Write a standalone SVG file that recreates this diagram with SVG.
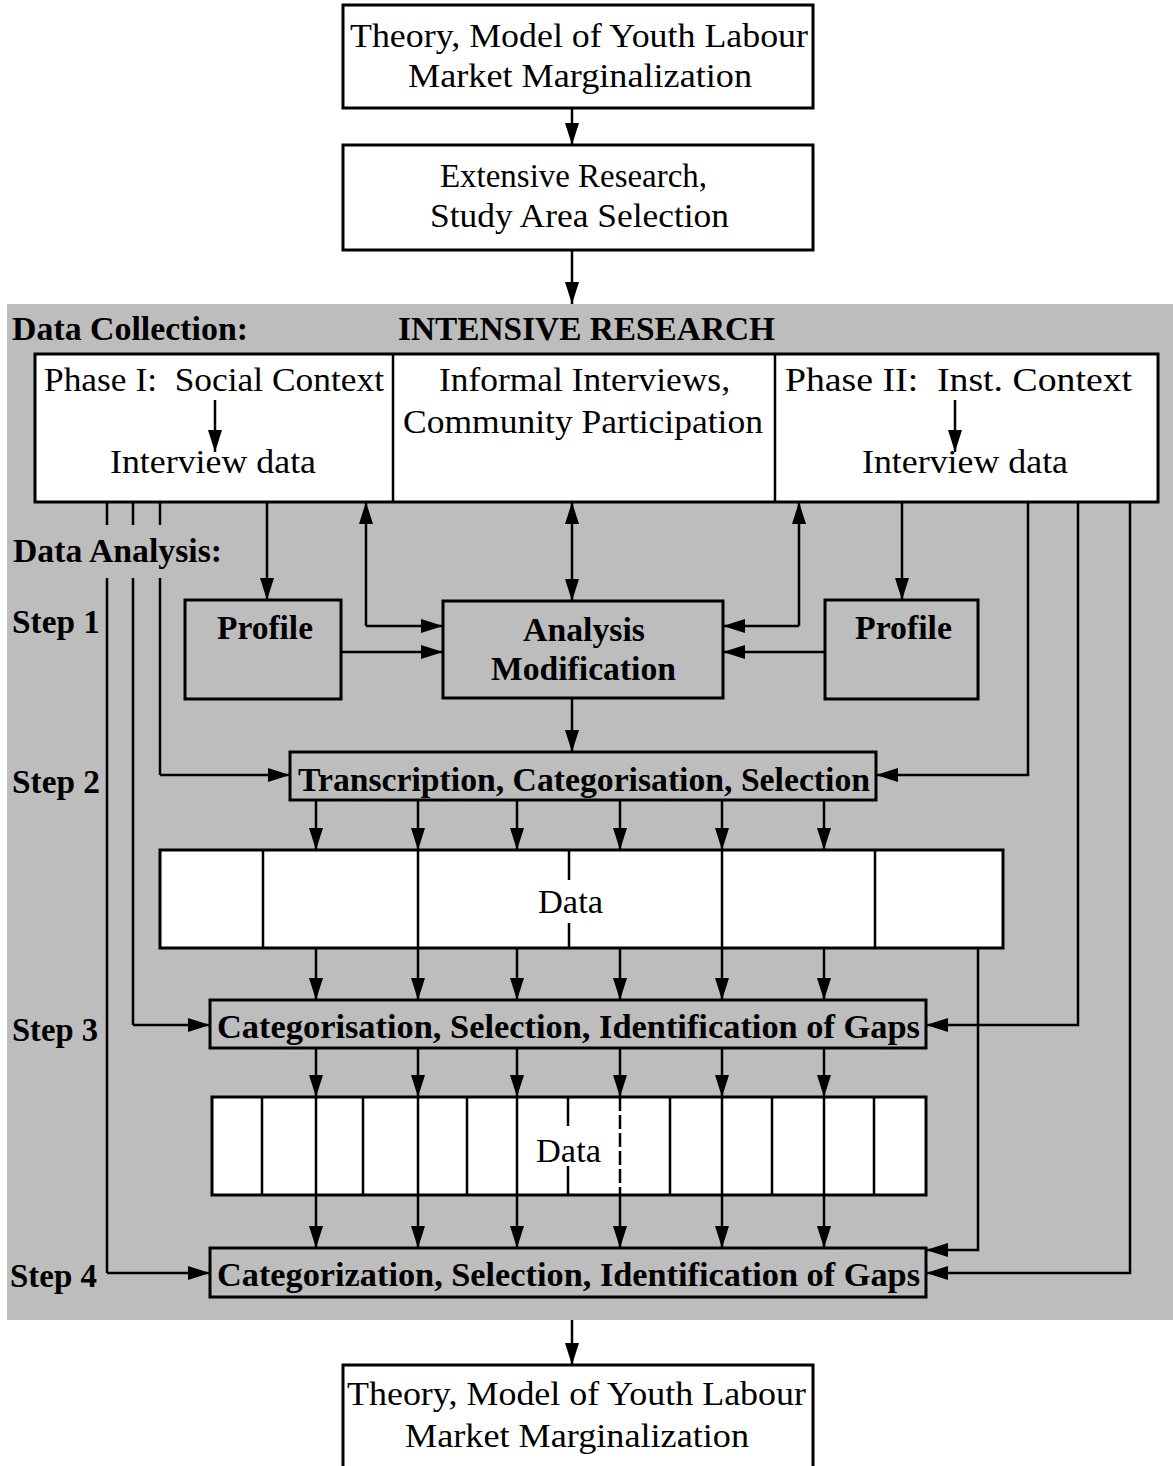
<svg xmlns="http://www.w3.org/2000/svg" width="1173" height="1466" viewBox="0 0 1173 1466">
<style>
  .box{fill:#ffffff;stroke:#000;stroke-width:3}
  .gbox{fill:#bdbdbd;stroke:#000;stroke-width:3}
  .ln{fill:none;stroke:#000;stroke-width:2.5}
  .t{font-family:"Liberation Serif","Times New Roman",serif;font-size:34px;fill:#000}
  .b{font-family:"Liberation Serif","Times New Roman",serif;font-size:34px;font-weight:bold;fill:#000}
</style>
<defs>
  <marker id="ah" viewBox="0 0 22 14" refX="22" refY="7" markerWidth="22" markerHeight="14" markerUnits="userSpaceOnUse" orient="auto-start-reverse">
    <path d="M0,0 L22,7 L0,14 Z" fill="#000"/>
  </marker>
</defs>

<rect id="shade" x="7" y="304" width="1166" height="1016" fill="#bdbdbd"/>

<g id="theory-top">
  <rect class="box" x="343" y="5" width="470" height="103"/>
  <text class="t" x="350" y="47" textLength="458" lengthAdjust="spacingAndGlyphs">Theory, Model of Youth Labour</text>
  <text class="t" x="408" y="87" textLength="344" lengthAdjust="spacingAndGlyphs">Market Marginalization</text>
</g>

<g id="extensive">
  <rect class="box" x="343" y="145" width="470" height="105"/>
  <text class="t" x="440" y="187" textLength="267" lengthAdjust="spacingAndGlyphs">Extensive Research,</text>
  <text class="t" x="430" y="227" textLength="299" lengthAdjust="spacingAndGlyphs">Study Area Selection</text>
</g>

<g id="labels">
  <text class="b" x="12" y="340" textLength="236" lengthAdjust="spacingAndGlyphs">Data Collection:</text>
  <text class="b" x="398" y="340" textLength="377" lengthAdjust="spacingAndGlyphs">INTENSIVE RESEARCH</text>
  <text class="b" x="13" y="562" textLength="209" lengthAdjust="spacingAndGlyphs">Data Analysis:</text>
  <text class="b" x="12" y="633" textLength="88" lengthAdjust="spacingAndGlyphs">Step 1</text>
  <text class="b" x="12" y="793" textLength="88" lengthAdjust="spacingAndGlyphs">Step 2</text>
  <text class="b" x="12" y="1041" textLength="86" lengthAdjust="spacingAndGlyphs">Step 3</text>
  <text class="b" x="10" y="1287" textLength="87" lengthAdjust="spacingAndGlyphs">Step 4</text>
</g>

<g id="collection">
  <rect class="box" x="35" y="354" width="1123" height="148"/>
  <line class="ln" x1="393" y1="354" x2="393" y2="502"/>
  <line class="ln" x1="775" y1="354" x2="775" y2="502"/>
  <text class="t" x="44" y="391" textLength="340" lengthAdjust="spacingAndGlyphs" xml:space="preserve">Phase I:  Social Context</text>
  <text class="t" x="110" y="473" textLength="206" lengthAdjust="spacingAndGlyphs">Interview data</text>
  <text class="t" x="439" y="391" textLength="291" lengthAdjust="spacingAndGlyphs">Informal Interviews,</text>
  <text class="t" x="403" y="433" textLength="360" lengthAdjust="spacingAndGlyphs">Community Participation</text>
  <text class="t" x="785" y="391" textLength="347" lengthAdjust="spacingAndGlyphs" xml:space="preserve">Phase II:  Inst. Context</text>
  <text class="t" x="862" y="473" textLength="206" lengthAdjust="spacingAndGlyphs">Interview data</text>
</g>

<g id="profile-left">
  <rect class="gbox" x="185" y="600" width="156" height="99"/>
  <text class="b" x="217" y="639" textLength="96" lengthAdjust="spacingAndGlyphs">Profile</text>
</g>
<g id="analysis">
  <rect class="gbox" x="443" y="601" width="280" height="97"/>
  <text class="b" x="523" y="641" textLength="122" lengthAdjust="spacingAndGlyphs">Analysis</text>
  <text class="b" x="491" y="680" textLength="185" lengthAdjust="spacingAndGlyphs">Modification</text>
</g>
<g id="profile-right">
  <rect class="gbox" x="825" y="600" width="153" height="99"/>
  <text class="b" x="855" y="639" textLength="97" lengthAdjust="spacingAndGlyphs">Profile</text>
</g>
<g id="transcription">
  <rect class="gbox" x="290" y="752" width="586" height="48"/>
  <text class="b" x="298" y="791" textLength="572" lengthAdjust="spacingAndGlyphs">Transcription, Categorisation, Selection</text>
</g>
<g id="data1">
  <rect class="box" x="160" y="850" width="843" height="98"/>
  <line class="ln" x1="263" y1="850" x2="263" y2="948"/>
  <line class="ln" x1="875" y1="850" x2="875" y2="948"/>
  <line class="ln" x1="569" y1="850" x2="569" y2="880"/>
  <line class="ln" x1="569" y1="923" x2="569" y2="948"/>
  <text class="t" x="538" y="913" textLength="65" lengthAdjust="spacingAndGlyphs">Data</text>
</g>
<g id="categorisation">
  <rect class="gbox" x="210" y="1000" width="716" height="48"/>
  <text class="b" x="217" y="1038" textLength="703" lengthAdjust="spacingAndGlyphs">Categorisation, Selection, Identification of Gaps</text>
</g>
<g id="data2">
  <rect class="box" x="212" y="1097" width="714" height="98"/>
  <path class="ln" d="M262,1097V1195 M363,1097V1195 M467,1097V1195 M670,1097V1195 M772,1097V1195 M874,1097V1195 M568,1097V1126 M568,1166V1195"/>
  <line class="ln" x1="620" y1="1097" x2="620" y2="1195" stroke-dasharray="14,4"/>
  <text class="t" x="536" y="1162" textLength="65" lengthAdjust="spacingAndGlyphs">Data</text>
</g>
<g id="categorization">
  <rect class="gbox" x="210" y="1248" width="716" height="49"/>
  <text class="b" x="217" y="1286" textLength="703" lengthAdjust="spacingAndGlyphs">Categorization, Selection, Identification of Gaps</text>
</g>
<g id="theory-bottom">
  <rect class="box" x="343" y="1365" width="470" height="110"/>
  <text class="t" x="347" y="1405" textLength="459" lengthAdjust="spacingAndGlyphs">Theory, Model of Youth Labour</text>
  <text class="t" x="405" y="1447" textLength="344" lengthAdjust="spacingAndGlyphs">Market Marginalization</text>
</g>

<g id="connectors">
  <line class="ln" x1="572" y1="108" x2="572" y2="145" marker-end="url(#ah)"/>
  <line class="ln" x1="572" y1="250" x2="572" y2="304" marker-end="url(#ah)"/>
  <line class="ln" x1="215" y1="400" x2="215" y2="452" marker-end="url(#ah)"/>
  <line class="ln" x1="955" y1="400" x2="955" y2="452" marker-end="url(#ah)"/>

  <path class="ln" d="M107,502V525 M107,578V1273"/>
  <path class="ln" d="M107,1273H210" marker-end="url(#ah)"/>
  <path class="ln" d="M133,502V525 M133,578V1025"/>
  <path class="ln" d="M133,1025H210" marker-end="url(#ah)"/>
  <path class="ln" d="M160,502V525 M160,578V775"/>
  <path class="ln" d="M160,775H290" marker-end="url(#ah)"/>

  <line class="ln" x1="267" y1="502" x2="267" y2="600" marker-end="url(#ah)"/>
  <path class="ln" d="M366,626V502" marker-end="url(#ah)"/>
  <path class="ln" d="M366,626H443" marker-end="url(#ah)"/>
  <path class="ln" d="M341,652H443" marker-end="url(#ah)"/>
  <line class="ln" x1="572" y1="502" x2="572" y2="601" marker-start="url(#ah)" marker-end="url(#ah)"/>
  <path class="ln" d="M799,626V502" marker-end="url(#ah)"/>
  <path class="ln" d="M799,626H723" marker-end="url(#ah)"/>
  <path class="ln" d="M825,652H723" marker-end="url(#ah)"/>
  <line class="ln" x1="902" y1="502" x2="902" y2="600" marker-end="url(#ah)"/>
  <line class="ln" x1="572" y1="698" x2="572" y2="752" marker-end="url(#ah)"/>

  <path class="ln" d="M1028,502V775H876" marker-end="url(#ah)"/>
  <path class="ln" d="M1078,502V1025H926" marker-end="url(#ah)"/>
  <path class="ln" d="M1130,502V1273H926" marker-end="url(#ah)"/>
  <path class="ln" d="M978,948V1250H926" marker-end="url(#ah)"/>

  <g>
    <line class="ln" x1="316" y1="800" x2="316" y2="850" marker-end="url(#ah)"/>
    <line class="ln" x1="418" y1="800" x2="418" y2="850" marker-end="url(#ah)"/>
    <line class="ln" x1="517" y1="800" x2="517" y2="850" marker-end="url(#ah)"/>
    <line class="ln" x1="620" y1="800" x2="620" y2="850" marker-end="url(#ah)"/>
    <line class="ln" x1="722" y1="800" x2="722" y2="850" marker-end="url(#ah)"/>
    <line class="ln" x1="824" y1="800" x2="824" y2="850" marker-end="url(#ah)"/>
    <line class="ln" x1="418" y1="850" x2="418" y2="948"/>
    <line class="ln" x1="722" y1="850" x2="722" y2="948"/>

    <line class="ln" x1="316" y1="948" x2="316" y2="1000" marker-end="url(#ah)"/>
    <line class="ln" x1="418" y1="948" x2="418" y2="1000" marker-end="url(#ah)"/>
    <line class="ln" x1="517" y1="948" x2="517" y2="1000" marker-end="url(#ah)"/>
    <line class="ln" x1="620" y1="948" x2="620" y2="1000" marker-end="url(#ah)"/>
    <line class="ln" x1="722" y1="948" x2="722" y2="1000" marker-end="url(#ah)"/>
    <line class="ln" x1="824" y1="948" x2="824" y2="1000" marker-end="url(#ah)"/>

    <line class="ln" x1="316" y1="1048" x2="316" y2="1097" marker-end="url(#ah)"/>
    <line class="ln" x1="418" y1="1048" x2="418" y2="1097" marker-end="url(#ah)"/>
    <line class="ln" x1="517" y1="1048" x2="517" y2="1097" marker-end="url(#ah)"/>
    <line class="ln" x1="620" y1="1048" x2="620" y2="1097" marker-end="url(#ah)"/>
    <line class="ln" x1="722" y1="1048" x2="722" y2="1097" marker-end="url(#ah)"/>
    <line class="ln" x1="824" y1="1048" x2="824" y2="1097" marker-end="url(#ah)"/>
    <path class="ln" d="M316,1097V1195 M418,1097V1195 M517,1097V1195 M722,1097V1195 M824,1097V1195"/>

    <line class="ln" x1="316" y1="1195" x2="316" y2="1248" marker-end="url(#ah)"/>
    <line class="ln" x1="418" y1="1195" x2="418" y2="1248" marker-end="url(#ah)"/>
    <line class="ln" x1="517" y1="1195" x2="517" y2="1248" marker-end="url(#ah)"/>
    <line class="ln" x1="620" y1="1195" x2="620" y2="1248" marker-end="url(#ah)"/>
    <line class="ln" x1="722" y1="1195" x2="722" y2="1248" marker-end="url(#ah)"/>
    <line class="ln" x1="824" y1="1195" x2="824" y2="1248" marker-end="url(#ah)"/>
  </g>
  <line class="ln" x1="572" y1="1320" x2="572" y2="1365" marker-end="url(#ah)"/>
</g>
</svg>
